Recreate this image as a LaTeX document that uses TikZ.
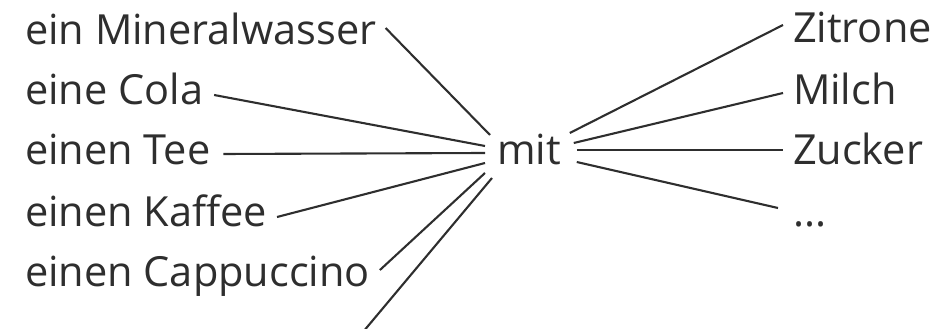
\documentclass[tikz,border=0pt]{standalone}
\usepackage{fontspec}
\setmainfont{Open Sans}
\definecolor{ink}{HTML}{2E2E2E}
\begin{document}
\begin{tikzpicture}[x=1pt,y=1pt,
  word/.style={anchor=base west,inner sep=0pt,outer sep=0pt,text=ink,font=\fontsize{41.5}{41.5}\selectfont},
  link/.style={draw=ink,line width=2.1pt}]
\useasboundingbox (0,0) rectangle (942,329);
\node[word] (mw) at (25,284) {ein Mineralwasser};
\node[word] (cola) at (25,224) {eine Cola};
\node[word] (tee) at (25,164) {einen Tee};
\node[word] (kaffee) at (25,102) {einen Kaffee};
\node[word] (capp) at (25,42) {einen Cappuccino};
\node[word] (mit) at (497,164) {mit};
\node[word] (zit) at (793,286) {Zitrone};
\node[word] (milch) at (793,224) {Milch};
\node[word] (zucker) at (793,164) {Zucker};
\node[word] (dots) at (793,102) {...};
\coordinate (free) at (363,-3);
% left fan
\draw[link] ([shift={(9pt,17pt)}]mw.base east) -- ([shift={(-7pt,30pt)}]mit.base west);
\draw[link] ([shift={(11pt,10pt)}]cola.base east) -- ([shift={(-12pt,19pt)}]mit.base west);
\draw[link] ([shift={(13pt,11pt)}]tee.base east) -- ([shift={(-12pt,12pt)}]mit.base west);
\draw[link] ([shift={(10pt,10pt)}]kaffee.base east) -- ([shift={(-12pt,2pt)}]mit.base west);
\draw[link] ([shift={(10pt,17pt)}]capp.base east) -- ([shift={(-12pt,-8pt)}]mit.base west);
\draw[link] (free) -- ([shift={(-5pt,-13pt)}]mit.base west);
% right fan
\draw[link] ([shift={(9pt,32pt)}]mit.base east) -- ([shift={(-10pt,18pt)}]zit.base west);
\draw[link] ([shift={(13pt,22pt)}]mit.base east) -- ([shift={(-10pt,12pt)}]milch.base west);
\draw[link] ([shift={(16pt,15pt)}]mit.base east) -- ([shift={(-10pt,15pt)}]zucker.base west);
\draw[link] ([shift={(16pt,3pt)}]mit.base east) -- ([shift={(-15pt,19pt)}]dots.base west);
\end{tikzpicture}
\end{document}
